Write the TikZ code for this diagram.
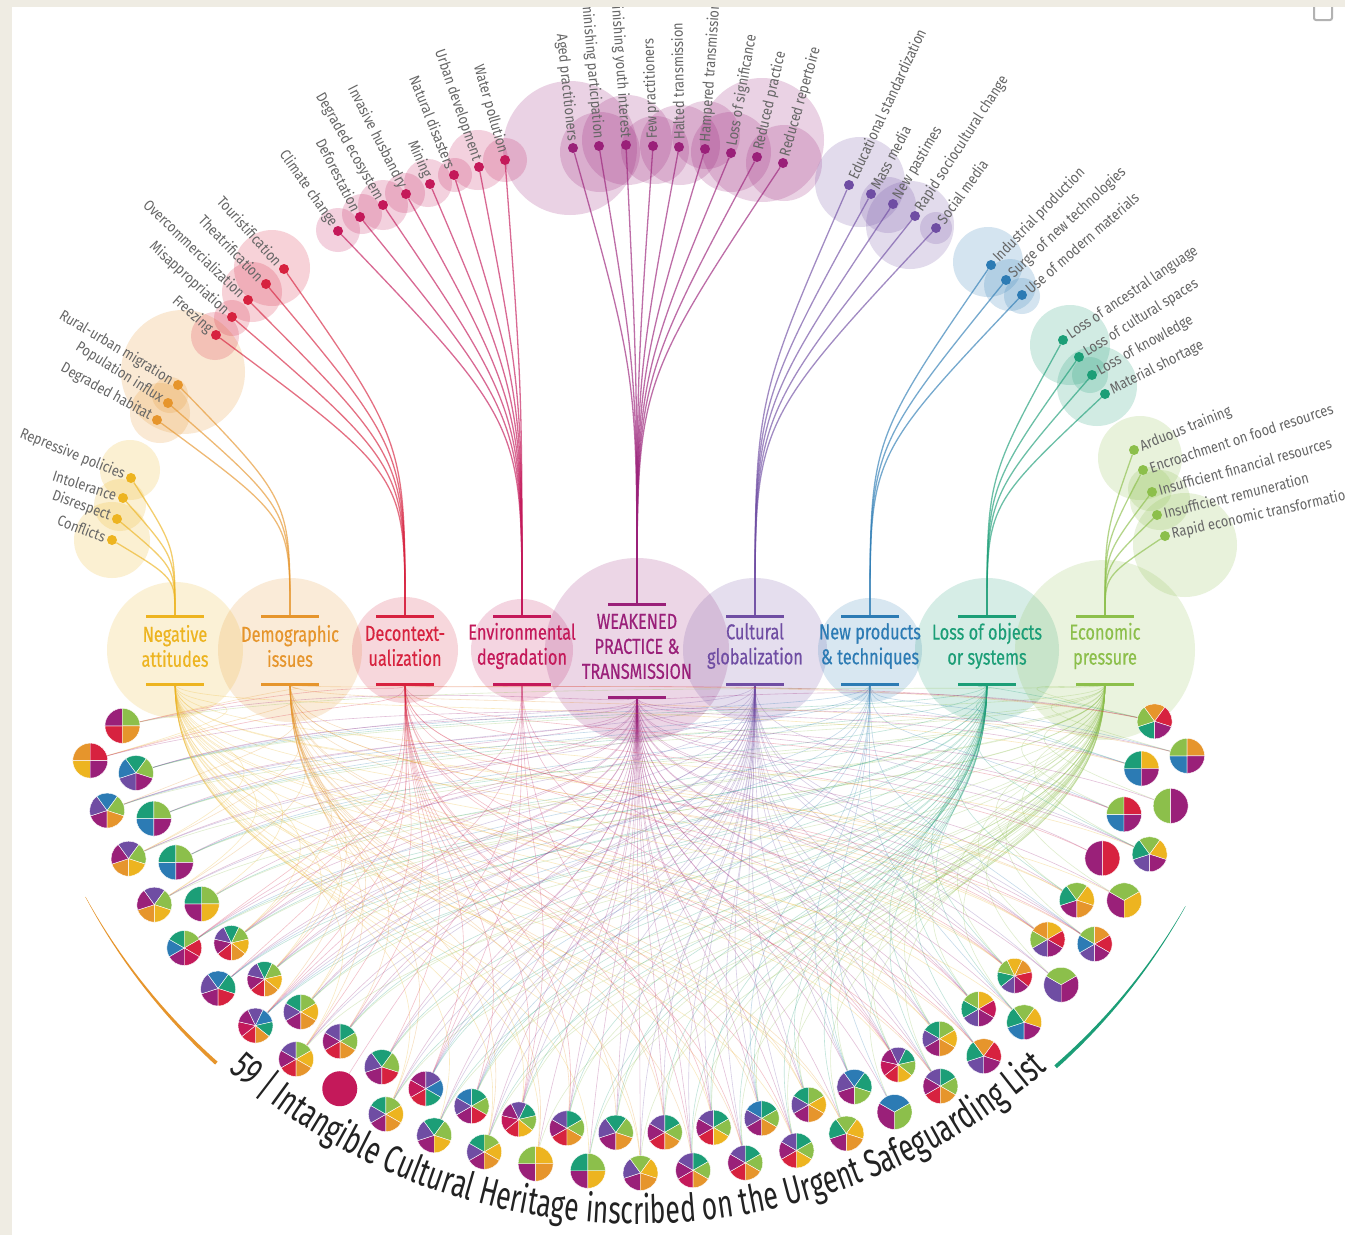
\documentclass[tikz,border=0pt]{standalone}
\usepackage{fontspec}
\setmainfont{Fira Sans}[FakeStretch=0.8]
\newfontfamily\labfont{Fira Sans}[FakeStretch=0.86]
\newfontfamily\catfont{Fira Sans}[FakeStretch=0.76, FakeBold=0.4]
\newfontfamily\ttlfont{Fira Sans}[FakeStretch=0.68]
\usetikzlibrary{calc,decorations.text}

\definecolor{cat1}{HTML}{EDB420}
\definecolor{cat2}{HTML}{E6952C}
\definecolor{cat3}{HTML}{D7223F}
\definecolor{cat4}{HTML}{C4195A}
\definecolor{cat5}{HTML}{9A2079}
\definecolor{cat6}{HTML}{6F4DA3}
\definecolor{cat7}{HTML}{2C7BB4}
\definecolor{cat8}{HTML}{1C9E77}
\definecolor{cat9}{HTML}{8CBF4B}
\definecolor{labelgray}{HTML}{666666}
\definecolor{titlegray}{HTML}{222222}
\definecolor{framebeige}{HTML}{EFECE3}

\tikzset{
  halo/.style={fill=#1, fill opacity=0.2},
  catdisc/.style={fill=#1, fill opacity=0.18},
  threat/.style={circle, fill=#1, inner sep=0pt, minimum size=10pt},
  tlabel/.style={font=\labfont\fontsize{15}{15}\selectfont, text=labelgray, inner xsep=7pt, inner ysep=1pt},
  catlabel/.style={font=\catfont\fontsize{21.5}{25}\selectfont, text=#1, align=center},
  catbar/.style={draw=#1, line width=3pt},
  feed/.style={draw=#1, line width=1.3pt, draw opacity=0.65},
  link/.style={draw=#1, line width=0.6pt, draw opacity=0.28},
}

\newcommand\titlefont{\ttlfont\fontsize{39}{39}\selectfont\color{titlegray}}

% pie index / threat categories of each inscribed element
\def\pielist{0/{3,5,9,2},1/{1,2,3,5},2/{6,7,8,9,5},3/{5,6,7,9,2},4/{7,8,9,5},
5/{2,5,6,9,1},6/{7,8,9,5},7/{2,5,6,9,1},8/{5,8,9,1},9/{5,7,8,9,3,4},
10/{3,5,6,8,9,1,2},11/{5,6,7,8,3},12/{3,5,6,8,9,1,2},13/{3,4,5,6,7,8,2},14/{5,6,8,9,1,2},
15/{3,5,6,9,1,2},16/{3,5,6,8,9,2},17/{4},18/{5,6,8,9,3},19/{5,6,8,9,1,2},
20/{3,4,5,6,7,8},21/{5,6,8,9,1},22/{5,6,7,8,9,3},23/{5,6,8,9,1,2},24/{3,4,5,6,8,9,1},
25/{5,9,1,2},26/{3,5,6,8,9,2},27/{5,8,9,1},28/{5,6,8,9,2},29/{5,6,9,1,2},
30/{3,5,6,8,9,2},31/{4,5,6,8,9,2},32/{3,5,6,8,9,1},33/{3,5,6,8,9,2},34/{5,6,7,8,9,2},
35/{3,5,6,8,9,1},36/{5,6,8,9,1,2},37/{5,8,9,1,2},38/{5,6,7,8,9},39/{5,7,9},
40/{3,4,5,6,8,9,1},41/{3,5,6,8,9,2},42/{5,6,8,9,1,2},43/{6,8,2,3,5},44/{6,8,9,1,4,5},
45/{7,8,9,1,5},46/{6,8,9,1,2,3,5},47/{6,9,5},48/{6,9,2,1,3,5},49/{6,7,9,2,3,5},
50/{5,8,9,1,2},51/{5,9,1},52/{5,3},53/{6,8,9,1,5},54/{7,9,3,5},
55/{9,5},56/{7,8,1,5},57/{7,9,2,5},58/{8,9,2,3,5}}

\begin{document}
\begin{tikzpicture}[x=1pt,y=-1pt]
\useasboundingbox (0,0) rectangle (1345,1235);
\fill[framebeige] (0,0) rectangle (1345,1235);
\fill[white] (12,7) rectangle (1345,1235);
\draw[gray!60, line width=2pt, rounded corners=2pt] (1314,7) -- (1314,20) -- (1332,20) -- (1332,7);
\coordinate (ctr) at (638,603);

\begin{scope}
\clip (12,7) rectangle (1345,1235);

%Halos
\foreach \c/\hx/\hy/\hr in {1/130/470/30, 1/120/505/26, 1/112/540/38,
  2/183/372/62, 2/160/413/30, 2/170/395/18,
  3/272/268/38, 3/252/292/30, 3/232/318/18, 3/215/336/24,
  4/338/230/22, 4/362/214/20, 4/383/205/25, 4/405/193/20, 4/428/183/24, 4/455/175/17, 4/478/160/30, 4/505/160/22,
  5/570/148/67, 5/600/152/40, 5/627/140/45, 5/655/150/34, 5/680/145/40, 5/706/135/34, 5/731/152/40, 5/762/140/62, 5/784/163/38,
  6/860/182/45, 6/888/205/28, 6/910/225/44, 6/936/228/16,
  7/988/262/35, 7/1010/285/26, 7/1022/296/18,
  8/1070/345/40, 8/1097/386/40, 8/1090/375/18,
  9/1140/458/42, 9/1160/500/30, 9/1185/545/52, 9/1150/489/22}
  \fill[halo=cat\c] (\hx,\hy) circle[radius=\hr];

%Category discs and anchors
\foreach \c/\cx/\yt/\yb/\r in {1/175/616/684/68, 2/290/616/684/72, 3/405/616/684/53,
  4/522/616/684/51, 5/637/604/697/92, 6/755/616/684/72, 7/870/616/684/52,
  8/987/616/684/72, 9/1105/616/684/90} {
  \coordinate (top\c) at (\cx,\yt);
  \coordinate (bot\c) at (\cx,\yb);
  \fill[catdisc=cat\c] (\cx,650) circle[radius=\r];
}

%Links to the inscribed elements
\foreach \i/\cats in \pielist {
  \pgfmathsetmacro\th{13.4+2.65*\i}
  \pgfmathsetmacro\rr{530+40*mod(\i,2)}
  \pgfmathsetmacro\py{603+\rr*sin(\th)}
  \coordinate (p\i) at ({638-\rr*cos(\th)},\py);
  \foreach \c in \cats
    \draw[link=cat\c] (bot\c) .. controls ($(bot\c)+(0,{0.5*(\py-700)})$) and ($(p\i)!0.45!(ctr)$) .. (p\i);
}

%Threats
\foreach \c/\cx/\yt/\threats in {
 1/175/616/{Repressive policies/131/478/-22/east, Intolerance/123/498/-18/east, Disrespect/117/519/-20/east, Conflicts/112/540/-21/east},
 2/290/616/{Rural-urban migration/178/385/-31/east, Population influx/168/403/-32/east, Degraded habitat/157/420/-29/east},
 3/405/616/{Touristification/284/269/-48/east, Theatrification/266/284/-46/east, Overcommercialization/248/300/-44/east, Misappropriation/232/317/-42/east, Freezing/216/335/-41/east},
 4/522/616/{Climate change/338/231/-55/east, Deforestation/360/217/-63/east, Degraded ecosystem/383/205/-60/east, Invasive husbandry/406/194/-63/east, Mining/430/184/-67/east, Natural disasters/454/175/-68/east, Urban development/479/167/-71/east, Water pollution/505/160/-74/east},
 5/637/604/{Aged practitioners/573/148/-84/east, Diminishing participation/599/146/-85/east, Diminishing youth interest/626/145/-86/east, Few practitioners/653/146/92/west, Halted transmission/679/147/91/west, Hampered transmission/705/149/86/west, Loss of significance/731/153/80/west, Reduced practice/757/157/77/west, Reduced repertoire/783/163/74/west},
 6/755/616/{Educational standardization/849/185/65/west, Mass media/871/194/62/west, New pastimes/893/204/59/west, Rapid sociocultural change/915/216/57/west, Social media/936/228/54/west},
 7/870/616/{Industrial production/991/265/46/west, Surge of new technologies/1006/280/43/west, Use of modern materials/1022/295/41/west},
 8/987/616/{Loss of ancestral language/1063/340/34/west, Loss of cultural spaces/1079/357/32/west, Loss of knowledge/1092/375/29/west, Material shortage/1105/394/27/west},
 9/1105/616/{Arduous training/1134/450/22/west, Encroachment on food resources/1143/470/18/west, Insufficient financial resources/1152/492/15.5/west, Insufficient remuneration/1157/515/14/west, Rapid economic transformation/1165/536/12.5/west}} {
  \foreach \lab/\tx/\ty/\ang/\anc [count=\k] in \threats {
    \node[threat=cat\c] (t\c-\k) at (\tx,\ty) {};
    \draw[feed=cat\c] (t\c-\k) .. controls (\cx,{(\ty+\yt)/2}) .. (top\c);
    \node[tlabel, rotate=\ang, anchor=\anc] at (t\c-\k.center) {\lab};
  }
}

%Category bars and names
\foreach \c/\txt in {1/{Negative\\attitudes}, 2/{Demographic\\issues}, 3/{Decontext-\\ualization},
  4/{Environmental\\degradation}, 5/{WEAKENED\\PRACTICE \&\\TRANSMISSION}, 6/{Cultural\\globalization},
  7/{New products\\\& techniques}, 8/{Loss of objects\\or systems}, 9/{Economic\\pressure}} {
  \draw[catbar=cat\c] ($(top\c)+(-29,0)$) -- ($(top\c)+(29,0)$);
  \draw[catbar=cat\c] ($(bot\c)+(-29,0)$) -- ($(bot\c)+(29,0)$);
  \node[catlabel=cat\c] (lab\c) at ($(top\c)!0.5!(bot\c)+(0,-4)$) {\txt};
}

%Pies
\foreach \i/\cats in \pielist {
  \foreach \c [count=\m] in \cats {\xdef\nsec{\m}}
  \foreach \c [count=\j from 0] in \cats {
    \pgfmathsetmacro\sa{90+\j*360/\nsec}
    \pgfmathsetmacro\da{360/\nsec}
    \ifnum\nsec=1
      \fill[cat\c] (p\i) circle[radius=17.5];
    \else
      \filldraw[fill=cat\c, draw=white, line width=0.4pt] (p\i) -- ++(\sa:17.5) arc[start angle=\sa, delta angle=\da, radius=17.5] -- cycle;
    \fi
  }
}

%Side arcs
\fill[cat2] plot[domain=28:47.5, samples=40] ({638-626*cos(\x)},{603+626*sin(\x)})
  -- plot[domain=47.5:28, samples=40] ({638-(625.7-3.5*(\x-28)/19.5)*cos(\x)},{603+(625.7-3.5*(\x-28)/19.5)*sin(\x)}) -- cycle;
\fill[cat8] plot[domain=29:48, samples=40] ({638+626*cos(\x)},{603+626*sin(\x)})
  -- plot[domain=48:29, samples=40] ({638+(625.7-3.5*(\x-29)/19)*cos(\x)},{603+(625.7-3.5*(\x-29)/19)*sin(\x)}) -- cycle;

%Title
\path[decorate, decoration={text along path, text format delimiters={[}{]},
  text={[\titlefont]59 | Intangible Cultural Heritage inscribed on the Urgent Safeguarding List},
  text align=center}] (ctr) ++(134:621) arc[start angle=134, end angle=46, radius=621];
\end{scope}
\end{tikzpicture}
\end{document}
